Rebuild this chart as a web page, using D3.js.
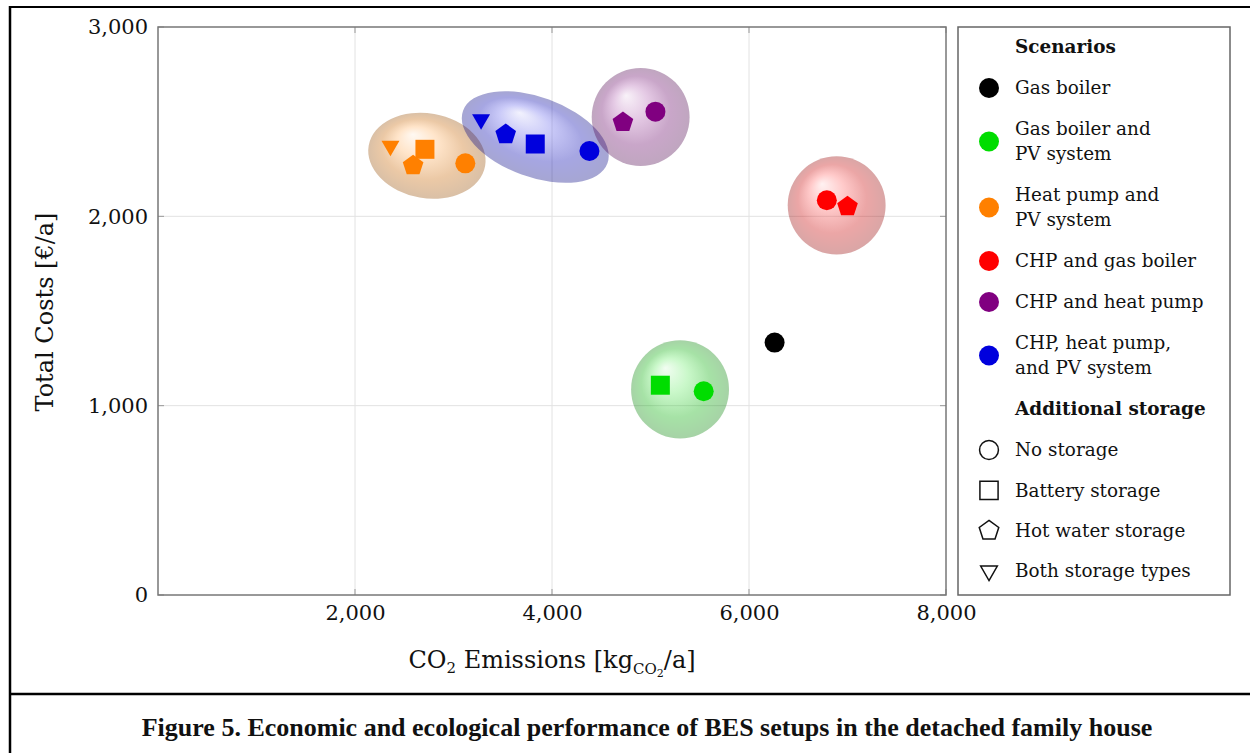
<!DOCTYPE html>
<html>
<head>
	<title> BES setups </title>
	<script src="https://d3js.org/d3.v7.min.js"></script>
	<style>
		body { margin: 0; background: white; }
		text { font-family: "DejaVu Serif", serif; fill: #111; }
	</style>
</head>
<body>
	<div id="vis">
		<svg></svg>
	</div>
	<script type="text/javascript">

		// scenarios (legend + colours)
		const scenarioNames = [["Gas boiler"], ["Gas boiler and", "PV system"], ["Heat pump and", "PV system"],
			["CHP and gas boiler"], ["CHP and heat pump"], ["CHP, heat pump,", "and PV system"]];
		const scenarioColors = ["#000000", "#00dd00", "#ff8000", "#ff0000", "#800080", "#0000dd"];

		// storage types (legend + marker shape)
		const storageNames = ["No storage", "Battery storage", "Hot water storage", "Both storage types"];

		// points: scenario index, storage index, CO2 [kg/a], costs [EUR/a]
		const pointScenario = [0, 1, 1, 2, 2, 2, 2, 3, 3, 4, 4, 5, 5, 5, 5];
		const pointStorage  = [0, 1, 0, 3, 1, 2, 0, 0, 2, 2, 0, 3, 2, 1, 0];
		const pointCO2      = [6260, 5100, 5540, 2360, 2710, 2590, 3120, 6790, 7000, 4720, 5050, 3280, 3530, 3830, 4380];
		const pointCost     = [1333, 1108, 1076, 2372, 2354, 2268, 2280, 2085, 2052, 2497, 2553, 2512, 2433, 2382, 2345];

		// cluster bubbles: scenario, centre, half widths (data units), tilt
		const bubbleScenario = [2, 5, 4, 3, 1];
		const bubbleCO2      = [2730, 3830, 4900, 6890, 5300];
		const bubbleCost     = [2320, 2419, 2525, 2058, 1086];
		const bubbleRadCO2   = [600, 780, 497, 497, 497];
		const bubbleRadCost  = [224, 211, 259, 259, 259];
		const bubbleTilt     = [10, 20, 0, 0, 0];

		const xTicks = [2000, 4000, 6000, 8000];
		const yTicks = [0, 1000, 2000, 3000];

		const w = 1250;
		const h = 753;
		const pl = 158, pr = 946, pt = 27, pb = 595;

		const svg = d3.select("svg").attr("width", w).attr("height", h);

		// custom symbols
		const symbolPentagon = {
			draw(ctx, size) {
				const r = Math.sqrt(size / (2.5 * Math.sin(2 * Math.PI / 5)));
				for (let i = 0; i < 5; i++) {
					const a = -Math.PI / 2 + i * 2 * Math.PI / 5;
					if (i == 0) ctx.moveTo(r * Math.cos(a), r * Math.sin(a));
					else ctx.lineTo(r * Math.cos(a), r * Math.sin(a));
				}
				ctx.closePath();
			}
		};
		const symbolTriDown = {
			draw(ctx, size) {
				const s = Math.sqrt(4 * size / Math.sqrt(3));
				const th = s * Math.sqrt(3) / 2;
				ctx.moveTo(0, 2 * th / 3);
				ctx.lineTo(s / 2, -th / 3);
				ctx.lineTo(-s / 2, -th / 3);
				ctx.closePath();
			}
		};
		const shapes = [d3.symbolCircle, d3.symbolSquare, symbolPentagon, symbolTriDown];
		const shapeSize = [314, 361, 280, 140];

		let x_scale = d3.scaleLinear().domain([0, 8000]).range([pl, pr]);
		let y_scale = d3.scaleLinear().domain([0, 3000]).range([pb, pt]);

		// outer figure frame
		svg.append("line").attr("x1", 10).attr("x2", 10).attr("y1", 6).attr("y2", 753).style("stroke", "black").style("stroke-width", 2.5);
		svg.append("line").attr("x1", 9).attr("x2", 1250).attr("y1", 7).attr("y2", 7).style("stroke", "black").style("stroke-width", 2);
		svg.append("line").attr("x1", 9).attr("x2", 1250).attr("y1", 694).attr("y2", 694).style("stroke", "black").style("stroke-width", 2.5);

		// grid
		svg.append("g").selectAll("line").data(xTicks.slice(0, -1)).join("line")
			.attr("x1", d => x_scale(d)).attr("x2", d => x_scale(d)).attr("y1", pt).attr("y2", pb)
			.style("stroke", "#e2e2e2").style("stroke-width", 1);
		svg.append("g").selectAll("line").data(yTicks.slice(1, -1)).join("line")
			.attr("x1", pl).attr("x2", pr).attr("y1", d => y_scale(d)).attr("y2", d => y_scale(d))
			.style("stroke", "#e2e2e2").style("stroke-width", 1);

		// ticks on all four sides
		const tk = 6;
		const tickG = svg.append("g").style("stroke", "#999").style("stroke-width", 1);
		xTicks.forEach(function(d){
			tickG.append("line").attr("x1", x_scale(d)).attr("x2", x_scale(d)).attr("y1", pb).attr("y2", pb - tk);
			tickG.append("line").attr("x1", x_scale(d)).attr("x2", x_scale(d)).attr("y1", pt).attr("y2", pt + tk);
		});
		yTicks.forEach(function(d){
			tickG.append("line").attr("x1", pl).attr("x2", pl + tk).attr("y1", y_scale(d)).attr("y2", y_scale(d));
			tickG.append("line").attr("x1", pr).attr("x2", pr - tk).attr("y1", y_scale(d)).attr("y2", y_scale(d));
		});

		// axes (labels only)
		var xaxis = d3.axisBottom(x_scale).tickValues(xTicks).tickSize(0).tickPadding(10).tickFormat(d3.format(","));
		svg.append("g").attr("transform", "translate(0, " + pb + ")").call(xaxis)
			.call(g => g.select(".domain").remove())
			.selectAll("text").style("font-family", "DejaVu Serif").style("font-size", "21px").style("fill", "#111");
		var yaxis = d3.axisLeft(y_scale).tickValues(yTicks).tickSize(0).tickPadding(10).tickFormat(d3.format(","));
		svg.append("g").attr("transform", "translate(" + pl + ", 0)").call(yaxis)
			.call(g => g.select(".domain").remove())
			.selectAll("text").style("font-family", "DejaVu Serif").style("font-size", "21px").style("fill", "#111");

		// bubble gradients
		const defs = svg.append("defs");
		bubbleScenario.forEach(function(s, i){
			const c = scenarioColors[s];
			const g = defs.append("radialGradient").attr("id", "ball" + i)
				.attr("cx", "50%").attr("cy", "50%").attr("r", "50%").attr("fx", "35%").attr("fy", "28%");
			g.append("stop").attr("offset", "0%").attr("stop-color", d3.interpolateRgb(c, "white")(0.85));
			g.append("stop").attr("offset", "35%").attr("stop-color", d3.interpolateRgb(c, "white")(0.4));
			g.append("stop").attr("offset", "70%").attr("stop-color", d3.interpolateRgb(c, "black")(0.22));
			g.append("stop").attr("offset", "100%").attr("stop-color", d3.interpolateRgb(c, "black")(0.42));
		});

		svg.append("g").selectAll("ellipse").data(bubbleScenario).join("ellipse")
			.attr("cx", 0).attr("cy", 0)
			.attr("rx", (d, i) => x_scale(bubbleCO2[i] + bubbleRadCO2[i]) - x_scale(bubbleCO2[i]))
			.attr("ry", (d, i) => y_scale(bubbleCost[i]) - y_scale(bubbleCost[i] + bubbleRadCost[i]))
			.attr("transform", (d, i) => "translate(" + x_scale(bubbleCO2[i]) + "," + y_scale(bubbleCost[i]) + ") rotate(" + bubbleTilt[i] + ")")
			.style("fill", (d, i) => "url(#ball" + i + ")")
			.style("fill-opacity", 0.35);

		// points
		svg.append("g").selectAll("path").data(pointScenario).join("path")
			.attr("d", (d, i) => d3.symbol().type(shapes[pointStorage[i]]).size(shapeSize[pointStorage[i]])())
			.attr("transform", (d, i) => "translate(" + x_scale(pointCO2[i]) + "," + y_scale(pointCost[i]) + ")")
			.style("fill", d => scenarioColors[d]);

		// plot frame
		svg.append("rect").attr("x", pl).attr("y", pt).attr("width", pr - pl).attr("height", pb - pt)
			.style("fill", "none").style("stroke", "#777").style("stroke-width", 1.5);

		// axis titles
		svg.append("text").attr("transform", "translate(53, 312) rotate(-90)").attr("text-anchor", "middle")
			.style("font-size", "24px").text("Total Costs [€/a]");
		const xt = svg.append("text").attr("x", 552).attr("y", 668).attr("text-anchor", "middle").style("font-size", "24px");
		xt.append("tspan").text("CO");
		xt.append("tspan").attr("dy", 5).style("font-size", "15px").text("2");
		xt.append("tspan").attr("dy", -5).text(" Emissions [kg");
		xt.append("tspan").attr("dy", 6).style("font-size", "15px").text("CO");
		xt.append("tspan").attr("dy", 3).style("font-size", "11px").text("2");
		xt.append("tspan").attr("dy", -9).text("/a]");

		// legend
		const lx = 958, ly = 27, lw = 272, lh = 568;
		svg.append("rect").attr("x", lx).attr("y", ly).attr("width", lw).attr("height", lh)
			.style("fill", "white").style("stroke", "#666").style("stroke-width", 1.5);
		const leg = svg.append("g").style("font-size", "18.4px");
		const mx = 989, tx = 1015, rowGap = 41, lineGap = 25;
		let y = 47;
		function title(t) {
			leg.append("text").attr("x", tx).attr("y", y).attr("dy", "0.35em").style("font-weight", "bold").text(t);
			y += rowGap;
		}
		title("Scenarios");
		scenarioNames.forEach(function(lines, i){
			const my = y + (lines.length - 1) * lineGap / 2;
			leg.append("circle").attr("cx", mx).attr("cy", my).attr("r", 10).style("fill", scenarioColors[i]);
			lines.forEach(function(t, j){
				leg.append("text").attr("x", tx).attr("y", y + j * lineGap).attr("dy", "0.35em").text(t);
			});
			y += (lines.length - 1) * lineGap + rowGap;
		});
		title("Additional storage");
		storageNames.forEach(function(t, i){
			const legSize = [280, 330, 250, 120];
			leg.append("path").attr("d", d3.symbol().type(shapes[i]).size(legSize[i])())
				.attr("transform", "translate(" + mx + "," + y + ")")
				.style("fill", "white").style("stroke", "#111").style("stroke-width", 1.5);
			leg.append("text").attr("x", tx).attr("y", y).attr("dy", "0.35em").text(t);
			y += 40.3;
		});

		// caption
		svg.append("text").attr("x", 647).attr("y", 736).attr("text-anchor", "middle")
			.style("font-family", "Liberation Serif").style("font-weight", "bold").style("font-size", "26px")
			.text("Figure 5. Economic and ecological performance of BES setups in the detached family house");

	</script>
</body>
</html>
